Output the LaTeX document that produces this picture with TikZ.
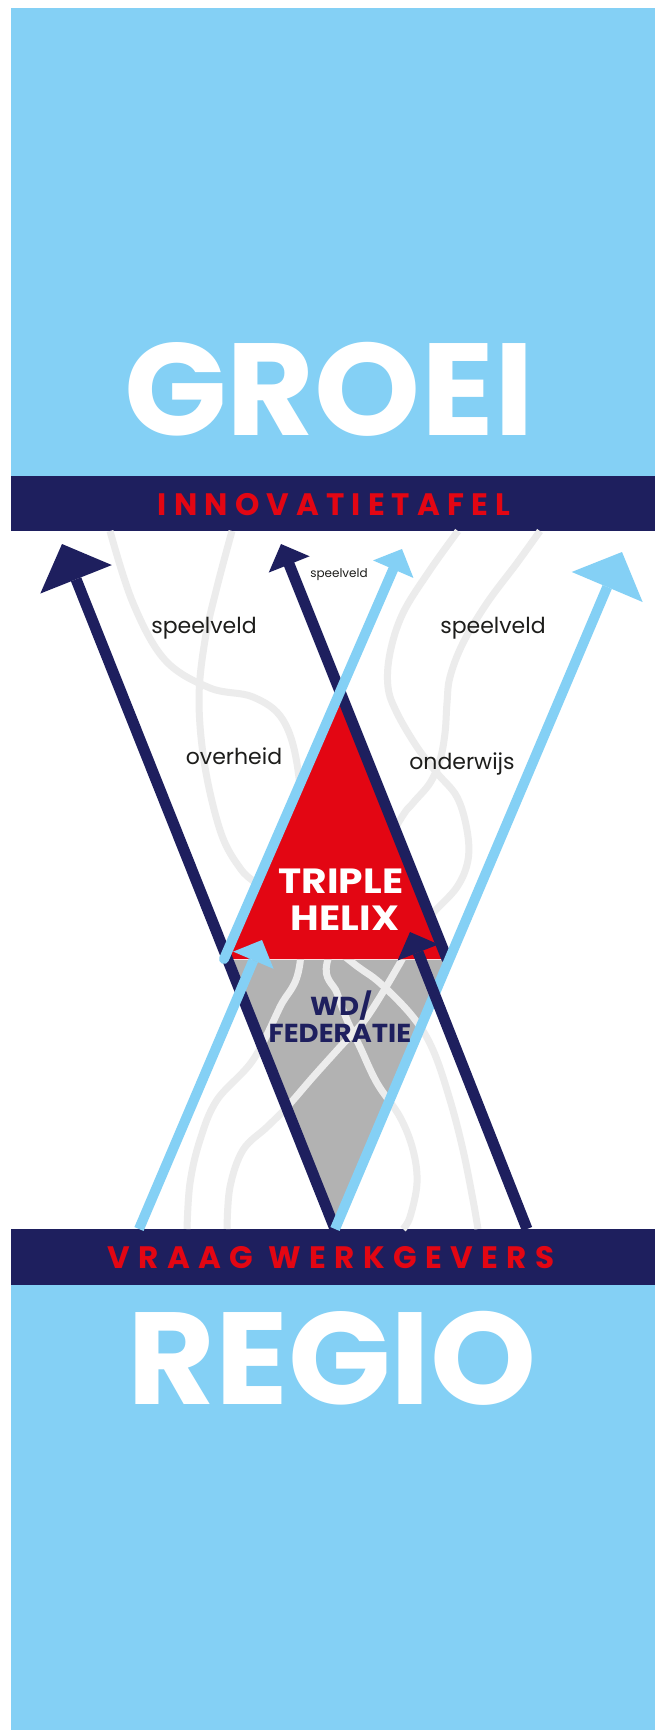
\documentclass[tikz,border=0pt]{standalone}
\usepackage{fontspec}
\setmainfont{Poppins}
\newfontfamily\spatie[LetterSpace=23]{Poppins}
\newfontfamily\spatiewijd[LetterSpace=27]{Poppins}
\usetikzlibrary{arrows.meta}

\definecolor{lichtblauw}{RGB}{132,208,245}
\definecolor{donkerblauw}{RGB}{30,31,94}
\definecolor{helixrood}{RGB}{227,6,19}
\definecolor{wdgrijs}{RGB}{178,178,178}
\definecolor{lijngrijs}{RGB}{236,236,236}
\definecolor{tekstzwart}{RGB}{29,29,27}

\tikzset{
  vlak/.style={fill=lichtblauw},
  balk/.style={fill=donkerblauw},
  streng/.style={draw=lijngrijs, line width=7pt},
  navypijl/.style={draw=donkerblauw, line width=11pt},
  blauwpijl/.style={draw=lichtblauw, line width=10pt},
  grotekop/.style={-{Triangle[length=38pt,width=77pt,line width=0pt]}},
  kleinekop/.style={-{Triangle[length=22pt,width=44pt,line width=0pt]}},
  kop/.style={text=white, font=\bfseries\fontsize{131}{131}\selectfont,
    inner sep=0pt, anchor=base, xscale=1.03},
  balktekst/.style={text=helixrood, font=\spatie\bfseries\fontsize{31}{31}\selectfont,
    inner sep=0pt, anchor=base},
  woord/.style={text=tekstzwart, font=\fontsize{22}{22}\selectfont,
    inner sep=0pt, anchor=base},
  helixtekst/.style={text=white, font=\bfseries\fontsize{35}{35}\selectfont,
    inner sep=0pt, anchor=base, xscale=1.12},
  wdtekst/.style={text=donkerblauw, font=\bfseries\fontsize{26}{26}\selectfont,
    inner sep=0pt, anchor=base, xscale=1.06},
}

\begin{document}
\begin{tikzpicture}[x=1pt, y=-1pt]
  \useasboundingbox (0,0) rectangle (660,1736);
  \fill[white] (0,0) rectangle (660,1736);

  % vlakken en balken
  \fill[vlak] (11,8) rectangle (655,476);
  \fill[balk] (11,476) rectangle (655,531);
  \fill[balk] (11,1229) rectangle (655,1285);
  \fill[vlak] (11,1285) rectangle (655,1730);

  % eindpunten van de pijlen
  \coordinate (vpunt) at (335,1229);
  \coordinate (pijlA) at (62,544);
  \coordinate (pijlB) at (622,552);
  \coordinate (nvstart) at (447,959);
  \coordinate (nvtip) at (281,544);
  \coordinate (lbstart) at (224,959);
  \coordinate (lbtip) at (402,549);
  \coordinate (lbvoet) at (139,1229);
  \coordinate (lbkop) at (262,940);
  \coordinate (nvvoet) at (527,1229);
  \coordinate (nvkop) at (410,932);

  % WD/federatie
  \fill[wdgrijs] (228,960) -- (449,960) -- (vpunt) -- cycle;

  % strengen
  \draw[streng] plot[smooth, tension=0.6] coordinates {
    (110,531) (133,603) (165,660) (210,688) (253,697) (283,720)
    (298,770) (302,850) (300,963) (280,1007) (253,1060) (217,1100)
    (200,1140) (190,1183) (187,1229)};
  \draw[streng] plot[smooth, tension=0.6] coordinates {
    (232,531) (217,587) (205,640) (199,700) (205,767) (221,833)
    (240,868) (258,885) (300,920) (353,963) (380,983) (413,1017)
    (433,1050) (450,1100) (463,1150) (473,1200) (478,1229)};
  \draw[streng] plot[smooth, tension=0.6] coordinates {
    (458,531) (430,570) (403,613) (390,653) (388,687) (397,713)
    (417,747) (437,773) (457,797) (467,830) (468,860) (457,887)
    (433,913) (413,937) (400,963) (367,1017) (340,1047) (313,1077)
    (287,1107) (267,1127) (243,1150) (230,1187) (227,1229)};
  \draw[streng] plot[smooth, tension=0.6] coordinates {
    (540,531) (517,563) (487,603) (463,643) (450,677) (447,703)
    (445,733) (440,760) (430,783) (413,803) (400,820) (360,890)
    (327,963) (337,993) (347,1020) (360,1047) (377,1083) (400,1117)
    (413,1150) (417,1183) (410,1217) (403,1229)};

  % triple helix
  \coordinate (top) at (intersection of lbstart--lbtip and nvstart--nvtip);
  \fill[helixrood] (lbstart) -- (top) -- (nvstart) -- cycle;

  % pijlen
  \draw[navypijl, grotekop] (vpunt) -- (pijlA);
  \draw[navypijl, kleinekop, line cap=round] (nvstart) -- (nvtip);
  \draw[blauwpijl, kleinekop, line cap=round] (lbstart) -- (lbtip);
  \draw[blauwpijl, kleinekop] (lbvoet) -- (lbkop);
  \draw[blauwpijl, grotekop] (vpunt) -- (pijlB);
  \draw[navypijl, kleinekop] (nvvoet) -- (nvkop);

  % teksten
  \node[kop] (groei) at (329,435) {GROEI};
  \node[kop] (regio) at (332,1404) {REGIO};
  \node[balktekst] (innovatie) at (334,515) {INNOVATIETAFEL};
  \node[balktekst, font=\spatiewijd\bfseries\fontsize{31}{31}\selectfont]
    (vraag) at (331,1268) {VRAAG WERKGEVERS};
  \node[woord] (speelveldL) at (204,633) {speelveld};
  \node[woord] (speelveldR) at (493,633) {speelveld};
  \node[woord, font=\fontsize{12}{12}\selectfont] (speelveldM) at (339,577) {speelveld};
  \node[woord] (overheid) at (234,764) {overheid};
  \node[woord] (onderwijs) at (462,769) {onderwijs};
  \node[helixtekst] (triple) at (341,893) {TRIPLE};
  \node[helixtekst] (helix) at (345,930) {HELIX};
  \node[wdtekst] (wd) at (341,1015) {WD/};
  \node[wdtekst] (federatie) at (340,1042) {FEDERATIE};
\end{tikzpicture}
\end{document}
